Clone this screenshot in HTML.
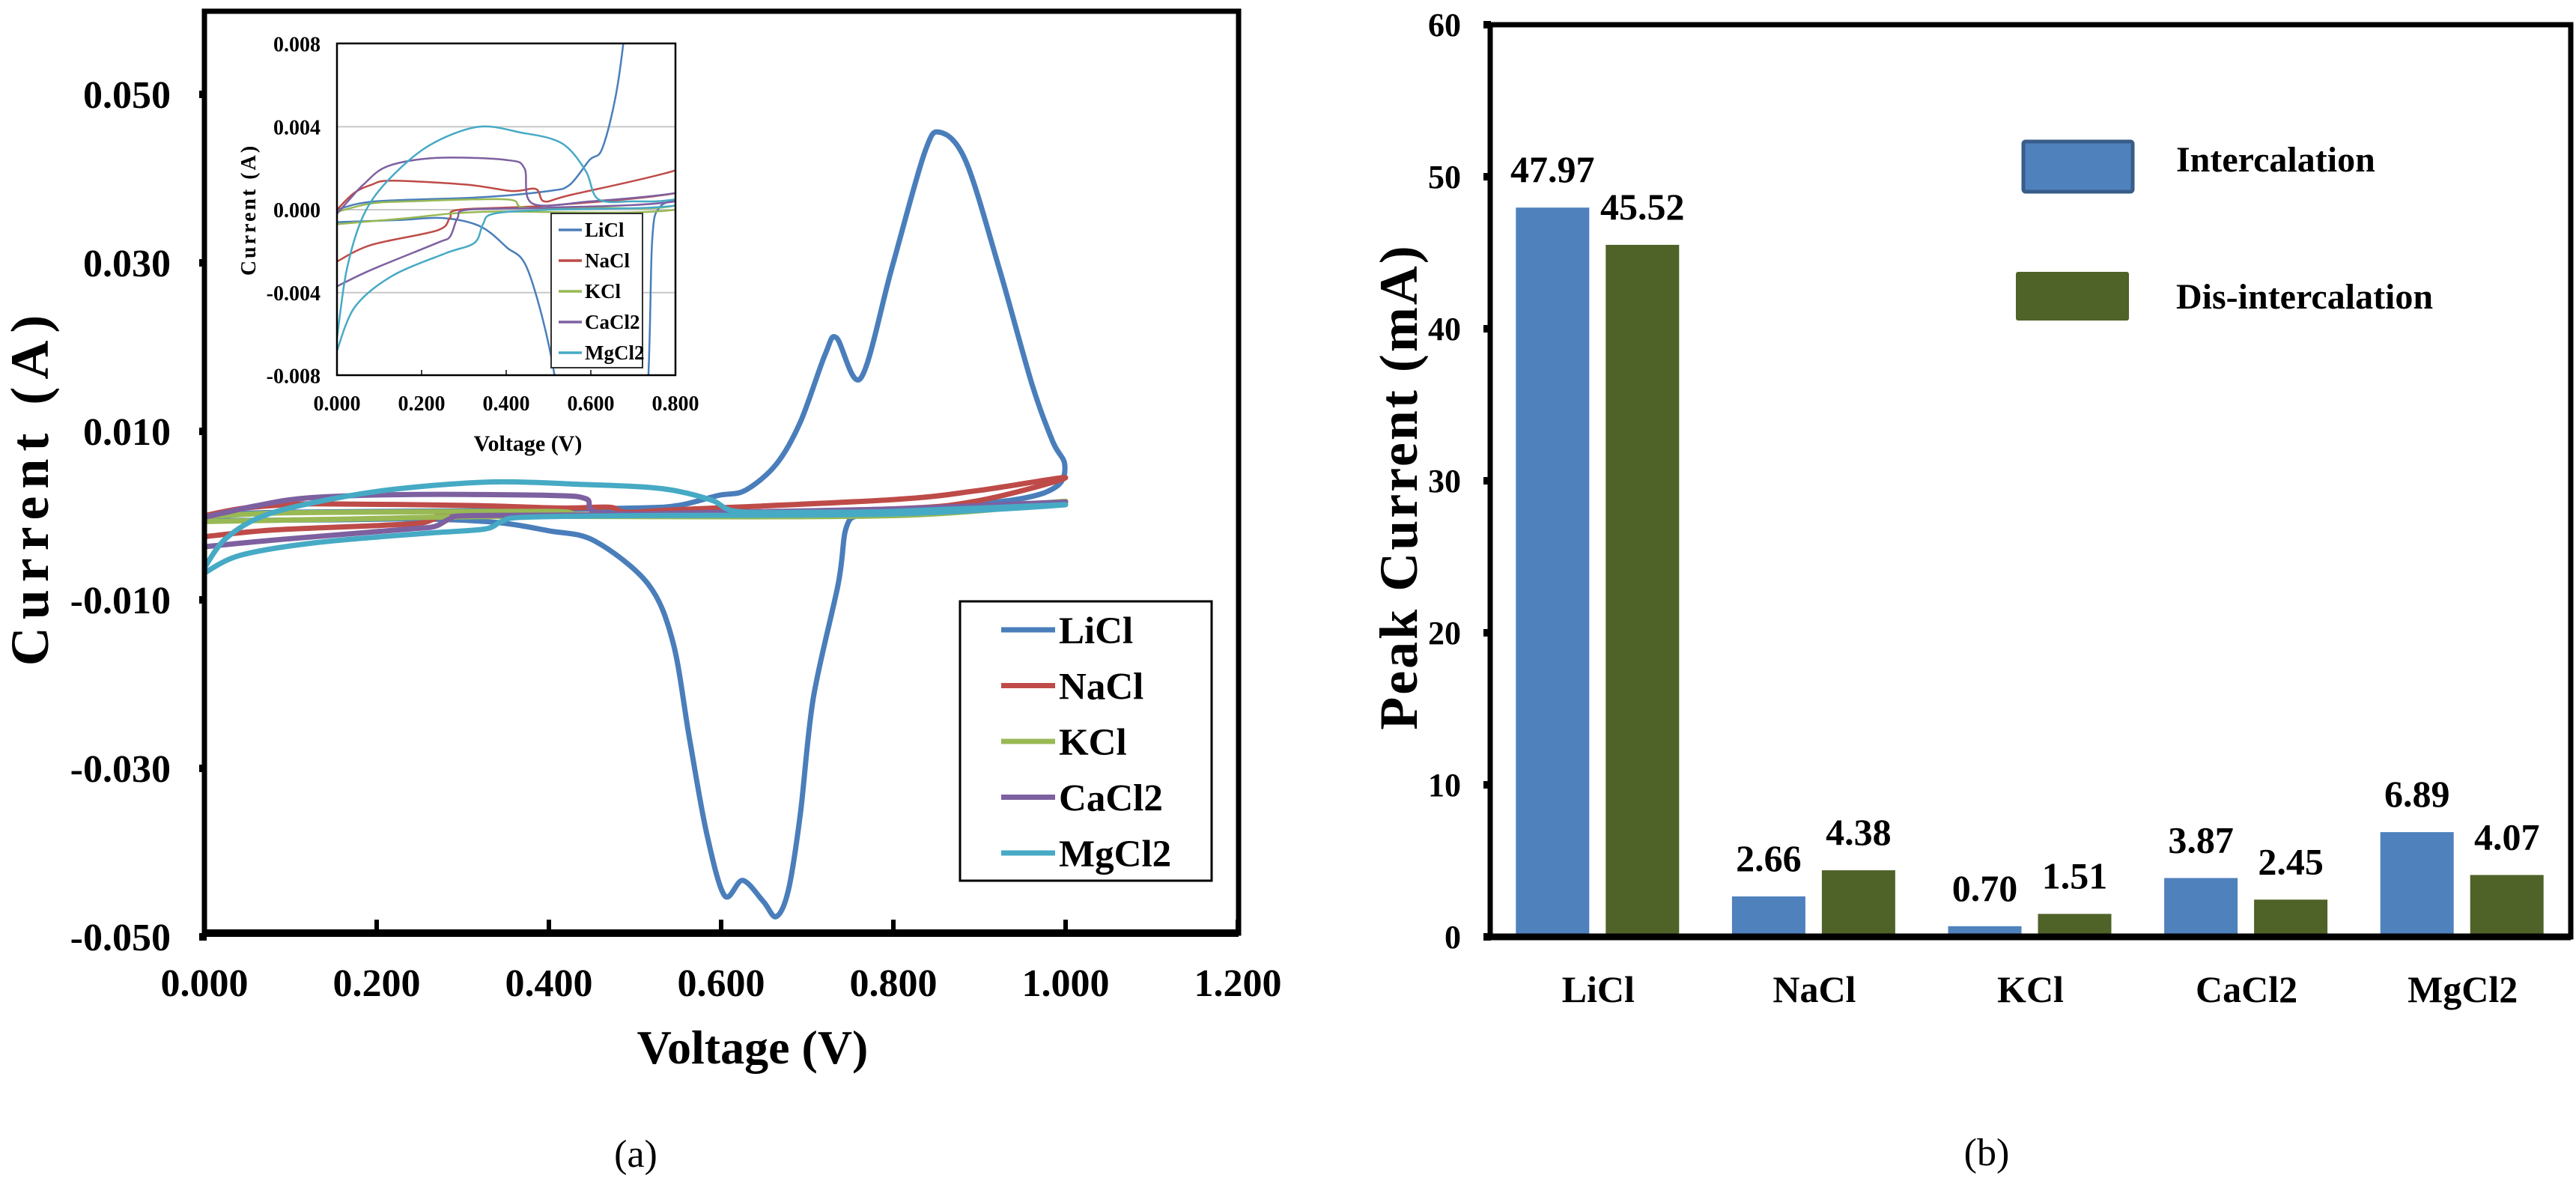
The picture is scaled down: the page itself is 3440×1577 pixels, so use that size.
<!DOCTYPE html>
<html><head><meta charset="utf-8"><style>
html,body{margin:0;padding:0;background:#fff}
svg{display:block}
text{font-family:"Liberation Serif",serif}
</style></head><body>
<svg id="fig" width="3440" height="1577" viewBox="0 0 3440 1577" xmlns="http://www.w3.org/2000/svg">
<defs><clipPath id="insetClip"><rect x="450" y="58" width="452" height="443"/></clipPath></defs>
<g id="panelA"></g>
<g id="panelB"></g>
</svg>
<script>
// ---- Panel (a) data: cyclic voltammetry loops ----
const liclV=[0,0.09,0.34,0.50,0.55,0.597,0.628,0.664,0.692,0.721,0.734,0.762,0.798,0.836,0.854,0.884,0.923,0.961,0.985,0.999,0.99,0.942,0.817,0.762,0.745,0.736,0.707,0.692,0.678,0.664,0.649,0.625,0.604,0.583,0.563,0.544,0.515,0.453,0.40,0.338,0.25,0.146,0];
const liclI=[0,0.0004,0.0006,0.0009,0.0012,0.0024,0.0030,0.0061,0.0111,0.0192,0.0211,0.0163,0.0293,0.0430,0.0455,0.0421,0.0293,0.0156,0.0088,0.0061,0.0035,0.0019,0.0006,0.0001,-0.0015,-0.0081,-0.0217,-0.0354,-0.0445,-0.0476,-0.0458,-0.0433,-0.0451,-0.0376,-0.0263,-0.0150,-0.0081,-0.0030,-0.0018,-0.0008,-0.0004,-0.0005,-0.0006];
const naclV=[0,0.04,0.081,0.13,0.31,0.414,0.47,0.49,0.55,0.8,0.9,1.0,0.9,0.8,0.5,0.29,0.267,0.237,0.081,0];
const naclI=[0,0.0008,0.0012,0.0014,0.0012,0.0009,0.0010,0.0004,0.0007,0.0019,0.0030,0.0045,0.0018,0.0008,0.0002,0.0,-0.0004,-0.0010,-0.0017,-0.0025];
const kclV=[0,0.081,0.17,0.40,0.443,0.6,0.8,1.0,0.8,0.35,0.17,0];
const kclI=[-0.0001,0.0003,0.0004,0.0005,0.0001,0.0001,0.0002,0.0017,0.0,-0.0001,-0.0004,-0.0007];
const cacl2V=[0,0.03,0.062,0.12,0.237,0.40,0.443,0.462,0.6,0.8,1.0,0.8,0.5,0.31,0.285,0.267,0.237,0.081,0];
const cacl2I=[-0.0002,0.0005,0.0012,0.0021,0.0025,0.0024,0.0020,0.0003,0.0004,0.0008,0.0016,0.0004,0.0001,0.0,-0.0004,-0.0013,-0.0016,-0.0029,-0.0037];
const mgcl2V=[0,0.023,0.062,0.12,0.218,0.335,0.44,0.51,0.55,0.59,0.618,0.7,0.8,1.0,0.8,0.5,0.37,0.345,0.325,0.257,0.13,0.042,0];
const mgcl2I=[-0.0062,-0.0029,-0.0003,0.0014,0.0031,0.0040,0.0037,0.0034,0.0029,0.0018,0.0005,0.0004,0.0005,0.0013,0.0002,0.0,-0.0002,-0.0007,-0.0016,-0.0021,-0.0032,-0.0047,-0.0068];
const seriesNames=["LiCl","NaCl","KCl","CaCl2","MgCl2"];
const mainYTicks=[0.05,0.03,0.01,-0.01,-0.03,-0.05];
const mainYTickLabels=["0.050","0.030","0.010","-0.010","-0.030","-0.050"];
const mainXTicks=[0,0.2,0.4,0.6,0.8,1.0,1.2];
const mainXTickLabels=["0.000","0.200","0.400","0.600","0.800","1.000","1.200"];
const insetYTicks=[0.008,0.004,0,-0.004,-0.008];
const insetYTickLabels=["0.008","0.004","0.000","-0.004","-0.008"];
const insetXTicks=[0,0.2,0.4,0.6,0.8];
const insetXTickLabels=["0.000","0.200","0.400","0.600","0.800"];
// ---- Panel (b) data ----
const categories=["LiCl","NaCl","KCl","CaCl2","MgCl2"];
const intercalation=[47.97,2.66,0.70,3.87,6.89];
const disIntercalation=[45.52,4.38,1.51,2.45,4.07];
const barYTicks=[0,10,20,30,40,50,60];

const NS="http://www.w3.org/2000/svg";
const colors=["#4a7ebb","#be4b48","#98b954","#7d60a0","#46aac5"];
const seriesV=[liclV,naclV,kclV,cacl2V,mgcl2V];
const seriesI=[liclI,naclI,kclI,cacl2I,mgcl2I];
function mk(parent,tag,attrs,text){const e=document.createElementNS(NS,tag);for(const k in attrs)e.setAttribute(k,attrs[k]);if(text!==undefined)e.textContent=text;parent.appendChild(e);return e;}
function smooth(pts){let d="M"+pts[0][0].toFixed(1)+","+pts[0][1].toFixed(1);
 for(let i=0;i<pts.length-1;i++){const p0=pts[Math.max(0,i-1)],p1=pts[i],p2=pts[i+1],p3=pts[Math.min(pts.length-1,i+2)];
  const t=0.16;const c1=[p1[0]+(p2[0]-p0[0])*t,p1[1]+(p2[1]-p0[1])*t],c2=[p2[0]-(p3[0]-p1[0])*t,p2[1]-(p3[1]-p1[1])*t];
  d+="C"+c1[0].toFixed(1)+","+c1[1].toFixed(1)+" "+c2[0].toFixed(1)+","+c2[1].toFixed(1)+" "+p2[0].toFixed(1)+","+p2[1].toFixed(1);}
 return d;}

// ===== Panel A =====
const A=document.getElementById("panelA");
const xM=v=>273+v*1150, yM=i=>126+(0.05-i)*11250;
const xI=v=>450+v/0.8*452, yI=i=>280-i*27687.5;

// inset
const inset=mk(A,"g",{});


mk(inset,"rect",{x:450,y:58,width:452,height:443,fill:"#fff"});
insetYTicks.forEach((t,k)=>{
 if(t!==0.008&&t!==-0.008){const g=mk(inset,"line",{x1:450,x2:902,y1:yI(t),y2:yI(t),stroke:"#c8c8c8","stroke-width":2});
  }
 const tl=mk(inset,"text",{x:428,y:yI(t)+10,"text-anchor":"end","font-size":28,"font-weight":"bold"},insetYTickLabels[k]);
 
});
insetXTicks.forEach((t,k)=>{
 mk(inset,"line",{x1:xI(t),x2:xI(t),y1:501,y2:494,stroke:"#444","stroke-width":2});
 const tl=mk(inset,"text",{x:xI(t),y:548,"text-anchor":"middle","font-size":28,"font-weight":"bold"},insetXTickLabels[k]);
 
});
const ic=mk(inset,"g",{"clip-path":"url(#insetClip)"});
seriesV.forEach((vs,s)=>{
 const p=mk(ic,"path",{d:smooth(vs.map((v,j)=>[xI(v),yI(seriesI[s][j])])),fill:"none",stroke:colors[s],"stroke-width":2.5,"stroke-linejoin":"round"});
 
});
mk(inset,"rect",{x:450,y:58,width:452,height:443,fill:"none",stroke:"#000","stroke-width":2.5});
const ixl=mk(inset,"text",{x:705,y:602,"text-anchor":"middle","font-size":30,"font-weight":"bold"},"Voltage (V)");

const iyl=mk(inset,"text",{x:0,y:0,"text-anchor":"middle","font-size":28,"font-weight":"bold","letter-spacing":3,transform:"translate(341,280) rotate(-90)"},"Current (A)");

const ilg=mk(inset,"g",{});

mk(ilg,"rect",{x:736,y:285,width:122,height:206,fill:"#fff",stroke:"#333","stroke-width":2});
seriesNames.forEach((n,s)=>{const y=307+s*41;
 mk(ilg,"line",{x1:746,x2:777,y1:y,y2:y,stroke:colors[s],"stroke-width":3.5});
 const t=mk(ilg,"text",{x:781,y:y+9,"font-size":27,"font-weight":"bold"},n);
 
});

// main series
seriesV.forEach((vs,s)=>{
 const p=mk(A,"path",{d:smooth(vs.map((v,j)=>[xM(v),yM(seriesI[s][j])])),fill:"none",stroke:colors[s],"stroke-width":7,"stroke-linejoin":"round","stroke-linecap":"round"});
 
});
// main frame
const fr=mk(A,"rect",{x:273,y:15,width:1381,height:1231,fill:"none",stroke:"#000","stroke-width":7});

mk(A,"line",{x1:273,x2:1654,y1:1246,y2:1246,stroke:"#000","stroke-width":10});
mainYTicks.forEach((t,k)=>{
 mk(A,"rect",{x:266,y:yM(t)-5,width:10,height:10,fill:"#000"});
 const tl=mk(A,"text",{x:228,y:yM(t)+18,"text-anchor":"end","font-size":52,"font-weight":"bold"},mainYTickLabels[k]);
 
});
mainXTicks.forEach((t,k)=>{
 mk(A,"line",{x1:xM(t),x2:xM(t),y1:1246,y2:1228,stroke:"#000","stroke-width":6});
 const tl=mk(A,"text",{x:xM(t),y:1330,"text-anchor":"middle","font-size":52,"font-weight":"bold"},mainXTickLabels[k]);
 
});
const xt=mk(A,"text",{x:1005,y:1420,"text-anchor":"middle","font-size":64,"font-weight":"bold"},"Voltage (V)");

const yt=mk(A,"text",{x:0,y:0,"text-anchor":"middle","font-size":72,"font-weight":"bold","letter-spacing":10,transform:"translate(64,650) rotate(-90)"},"Current (A)");

const lg=mk(A,"g",{});

mk(lg,"rect",{x:1282,y:803,width:336,height:373,fill:"#fff",stroke:"#000","stroke-width":3});
seriesNames.forEach((n,s)=>{const y=841+s*74.5;
 mk(lg,"line",{x1:1337,x2:1409,y1:y,y2:y,stroke:colors[s],"stroke-width":7});
 const t=mk(lg,"text",{x:1414,y:y+18,"font-size":51,"font-weight":"bold"},n);
 
});
const ca=mk(A,"text",{x:849,y:1558,"text-anchor":"middle","font-size":52},"(a)");


// ===== Panel B =====
const B=document.getElementById("panelB");
const bx0=1990,bx1=3433,band=(bx1-bx0)/categories.length;
const yB=v=>1251-v*20.3;
const cx=k=>bx0+band*(k+0.5);
categories.forEach((c,k)=>{
 const h1=intercalation[k],h2=disIntercalation[k];
 const r1=mk(B,"rect",{x:cx(k)-110,y:yB(h1),width:98,height:yB(0)-yB(h1),fill:"#4f81bd"});
 
 const r2=mk(B,"rect",{x:cx(k)+10,y:yB(h2),width:98,height:yB(0)-yB(h2),fill:"#4f6228"});
 
 const l1=mk(B,"text",{x:cx(k)-61,y:yB(h1)-34,"text-anchor":"middle","font-size":50,"font-weight":"bold"},h1.toFixed(2));
 
 const l2=mk(B,"text",{x:cx(k)+59,y:yB(h2)-34,"text-anchor":"middle","font-size":50,"font-weight":"bold"},h2.toFixed(2));
 
 const cl=mk(B,"text",{x:cx(k),y:1338,"text-anchor":"middle","font-size":50,"font-weight":"bold"},c);
 
});
const fb=mk(B,"rect",{x:bx0,y:yB(60),width:bx1-bx0,height:yB(0)-yB(60),fill:"none",stroke:"#000","stroke-width":7});

mk(B,"line",{x1:bx0,x2:bx1,y1:yB(0),y2:yB(0),stroke:"#000","stroke-width":9});
barYTicks.forEach(t=>{
 mk(B,"rect",{x:bx0-9,y:yB(t)-5,width:10,height:10,fill:"#000"});
 const tl=mk(B,"text",{x:1951,y:yB(t)+15,"text-anchor":"end","font-size":44,"font-weight":"bold"},String(t));
 
});
const byt=mk(B,"text",{x:0,y:0,"text-anchor":"middle","font-size":72,"font-weight":"bold","letter-spacing":3,transform:"translate(1892,650) rotate(-90)"},"Peak Current (mA)");

const blg=mk(B,"g",{});

mk(blg,"rect",{x:2702,y:189,width:146,height:67,fill:"#4f81bd",stroke:"#385d8a","stroke-width":5,rx:3});
const bl1=mk(blg,"text",{x:2906,y:229,"font-size":48,"font-weight":"bold"},"Intercalation");

mk(blg,"rect",{x:2692,y:363,width:151,height:65,fill:"#4f6228",rx:3});
const bl2=mk(blg,"text",{x:2906,y:412,"font-size":48,"font-weight":"bold"},"Dis-intercalation");

const cb=mk(B,"text",{x:2653,y:1556,"text-anchor":"middle","font-size":52},"(b)");

</script>
</body></html>
